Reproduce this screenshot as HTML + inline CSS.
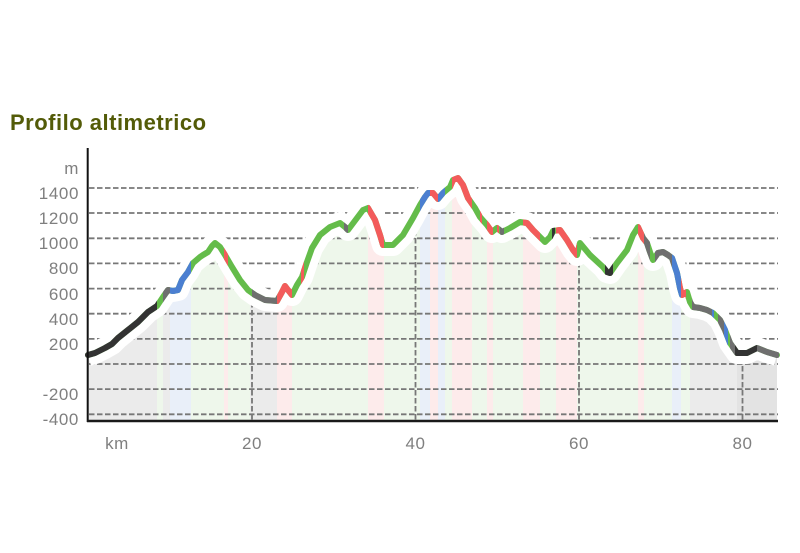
<!DOCTYPE html>
<html><head><meta charset="utf-8">
<style>
html,body{margin:0;padding:0;background:#fff;}
svg{display:block}
.t{font-family:"Liberation Sans",Arial,sans-serif;font-size:17px;fill:#7f7f7f;letter-spacing:0.6px}
</style></head>
<body>
<svg width="800" height="553" xmlns="http://www.w3.org/2000/svg">
<defs>
<path id="c" d="M88,355 L95,353 L105,348 L112,344 L118,338 L128,330 L138,322 L148,312 L157,306 L163,297 L168,290 L173,291 L178,290 L182,280 L188,272 L193,263 L200,257 L203,255 L208,252 L212,246 L215,243 L220,247 L225,255 L232,267 L240,280 L248,290 L255,295 L265,300 L277,301 L282,292 L285,286 L288,290 L292,295 L297,285 L302,277 L307,262 L312,248 L320,235 L330,227 L340,223 L345,227 L348,230 L357,218 L363,210 L368,208 L375,220 L380,235 L383,245 L393,245 L403,235 L413,218 L420,205 L425,197 L428,193 L433,193 L438,199 L443,193 L450,187 L453,180 L458,178 L463,185 L468,198 L475,208 L480,217 L487,225 L492,232 L497,228 L502,232 L510,228 L520,222 L527,223 L533,230 L538,235 L545,242 L550,237 L553,231 L560,230 L567,240 L573,250 L577,255 L580,243 L590,255 L603,267 L607,272 L610,273 L617,263 L627,250 L633,235 L638,227 L643,238 L647,243 L650,252 L653,260 L658,253 L663,252 L668,255 L672,258 L677,273 L680,288 L682,295 L687,292 L690,302 L693,307 L700,308 L707,310 L713,313 L720,320 L725,330 L730,343 L737,353 L747,353 L757,348 L767,352 L777,355"/>
<clipPath id="area"><path d="M88,355 L95,353 L105,348 L112,344 L118,338 L128,330 L138,322 L148,312 L157,306 L163,297 L168,290 L173,291 L178,290 L182,280 L188,272 L193,263 L200,257 L203,255 L208,252 L212,246 L215,243 L220,247 L225,255 L232,267 L240,280 L248,290 L255,295 L265,300 L277,301 L282,292 L285,286 L288,290 L292,295 L297,285 L302,277 L307,262 L312,248 L320,235 L330,227 L340,223 L345,227 L348,230 L357,218 L363,210 L368,208 L375,220 L380,235 L383,245 L393,245 L403,235 L413,218 L420,205 L425,197 L428,193 L433,193 L438,199 L443,193 L450,187 L453,180 L458,178 L463,185 L468,198 L475,208 L480,217 L487,225 L492,232 L497,228 L502,232 L510,228 L520,222 L527,223 L533,230 L538,235 L545,242 L550,237 L553,231 L560,230 L567,240 L573,250 L577,255 L580,243 L590,255 L603,267 L607,272 L610,273 L617,263 L627,250 L633,235 L638,227 L643,238 L647,243 L650,252 L653,260 L658,253 L663,252 L668,255 L672,258 L677,273 L680,288 L682,295 L687,292 L690,302 L693,307 L700,308 L707,310 L713,313 L720,320 L725,330 L730,343 L737,353 L747,353 L757,348 L767,352 L777,355 L777,421 L88,421 Z"/></clipPath>
<clipPath id="red">
<rect x="224" y="0" width="4" height="553"/><rect x="277" y="0" width="15" height="553"/><rect x="301" y="0" width="3" height="553"/><rect x="368" y="0" width="16" height="553"/><rect x="430" y="0" width="8" height="553"/><rect x="452" y="0" width="20" height="553"/><rect x="480" y="0" width="2" height="553"/><rect x="487" y="0" width="6" height="553"/><rect x="497" y="0" width="2" height="553"/><rect x="523" y="0" width="17" height="553"/><rect x="556" y="0" width="21" height="553"/><rect x="638" y="0" width="6" height="553"/><rect x="681" y="0" width="5" height="553"/>
</clipPath>
<clipPath id="blue">
<rect x="170" y="0" width="21" height="553"/><rect x="420" y="0" width="10" height="553"/><rect x="438" y="0" width="7" height="553"/><rect x="672" y="0" width="9" height="553"/><rect x="712" y="0" width="2" height="553"/><rect x="724" y="0" width="4" height="553"/>
</clipPath>
<clipPath id="gray">
<rect x="163" y="0" width="7" height="553"/><rect x="252" y="0" width="25" height="553"/><rect x="344" y="0" width="4" height="553"/><rect x="500" y="0" width="4" height="553"/><rect x="644" y="0" width="6" height="553"/><rect x="655" y="0" width="17" height="553"/><rect x="692" y="0" width="20" height="553"/><rect x="718" y="0" width="6" height="553"/><rect x="730" y="0" width="5" height="553"/><rect x="757" y="0" width="22" height="553"/>
</clipPath>
<clipPath id="dark">
<rect x="80" y="0" width="77" height="553"/><rect x="605" y="0" width="8" height="553"/><rect x="735" y="0" width="22" height="553"/><rect x="552" y="0" width="3" height="553"/>
</clipPath>
</defs>

<!-- title -->
<text x="10" y="130" font-family="Liberation Sans, Arial, sans-serif" font-size="22" font-weight="bold" fill="#535b08" letter-spacing="0.5">Profilo altimetrico</text>

<!-- area fill -->
<g clip-path="url(#area)">
<rect x="88" y="150" width="690" height="272" fill="#eef7eb"/>
<g fill="#ebebeb">
<rect x="88" y="150" width="69" height="272"/><rect x="163" y="150" width="7" height="272"/><rect x="250" y="150" width="27" height="272"/><rect x="690" y="150" width="88" height="272"/>
</g>
<rect x="737" y="150" width="41" height="272" fill="#e3e3e3"/>
<g fill="#fdebeb">
<rect x="224" y="150" width="4" height="272"/><rect x="277" y="150" width="15" height="272"/><rect x="368" y="150" width="16" height="272"/><rect x="430" y="150" width="8" height="272"/><rect x="452" y="150" width="20" height="272"/><rect x="487" y="150" width="6" height="272"/><rect x="523" y="150" width="17" height="272"/><rect x="556" y="150" width="21" height="272"/><rect x="638" y="150" width="6" height="272"/>
</g>
<g fill="#e9eff9">
<rect x="170" y="150" width="21" height="272"/><rect x="420" y="150" width="10" height="272"/><rect x="438" y="150" width="7" height="272"/><rect x="672" y="150" width="9" height="272"/>
</g>
<g stroke="#777" stroke-width="1.8" stroke-dasharray="5.5,2.5">
<line x1="252" y1="150" x2="252" y2="421"/>
<line x1="415.5" y1="150" x2="415.5" y2="421"/>
<line x1="579" y1="150" x2="579" y2="421"/>
<line x1="742.5" y1="150" x2="742.5" y2="421"/>
</g>
</g>

<!-- horizontal gridlines -->
<g stroke="#777" stroke-width="1.8" stroke-dasharray="5.5,2.5">
<line x1="89" y1="188" x2="778" y2="188"/>
<line x1="89" y1="213" x2="778" y2="213"/>
<line x1="89" y1="238.3" x2="778" y2="238.3"/>
<line x1="89" y1="263.4" x2="778" y2="263.4"/>
<line x1="89" y1="288.6" x2="778" y2="288.6"/>
<line x1="89" y1="313.7" x2="778" y2="313.7"/>
<line x1="89" y1="338.9" x2="778" y2="338.9"/>
<line x1="89" y1="364" x2="778" y2="364"/>
<line x1="89" y1="389.1" x2="778" y2="389.1"/>
<line x1="89" y1="414.3" x2="778" y2="414.3"/>
</g>

<!-- white halo -->
<use href="#c" fill="none" stroke="#fff" stroke-width="22" stroke-linejoin="round" stroke-linecap="butt"/>

<!-- colored profile -->
<g fill="none" stroke-width="6" stroke-linejoin="round" stroke-linecap="round">
<use href="#c" stroke="#64bc4a"/>
<g clip-path="url(#red)"><use href="#c" stroke="#f35b5b"/></g>
<g clip-path="url(#blue)"><use href="#c" stroke="#4b7fd1"/></g>
<g clip-path="url(#gray)"><use href="#c" stroke="#6f6f6f"/></g>
<g clip-path="url(#dark)"><use href="#c" stroke="#333333"/></g>
</g>

<!-- axes -->
<line x1="87.7" y1="148" x2="87.7" y2="422" stroke="#111" stroke-width="2"/>
<line x1="87" y1="421" x2="778" y2="421" stroke="#1a1a1a" stroke-width="2.5"/>

<!-- y labels -->
<g class="t" text-anchor="end">
<text x="79" y="174">m</text>
<text x="79" y="199">1400</text>
<text x="79" y="224">1200</text>
<text x="79" y="249">1000</text>
<text x="79" y="274">800</text>
<text x="79" y="300">600</text>
<text x="79" y="325">400</text>
<text x="79" y="350">200</text>
<text x="79" y="400">-200</text>
<text x="79" y="425">-400</text>
</g>

<!-- x labels -->
<g class="t" text-anchor="middle">
<text x="117" y="449">km</text>
<text x="252" y="449">20</text>
<text x="415.5" y="449">40</text>
<text x="579" y="449">60</text>
<text x="742.5" y="449">80</text>
</g>
</svg>
</body></html>
